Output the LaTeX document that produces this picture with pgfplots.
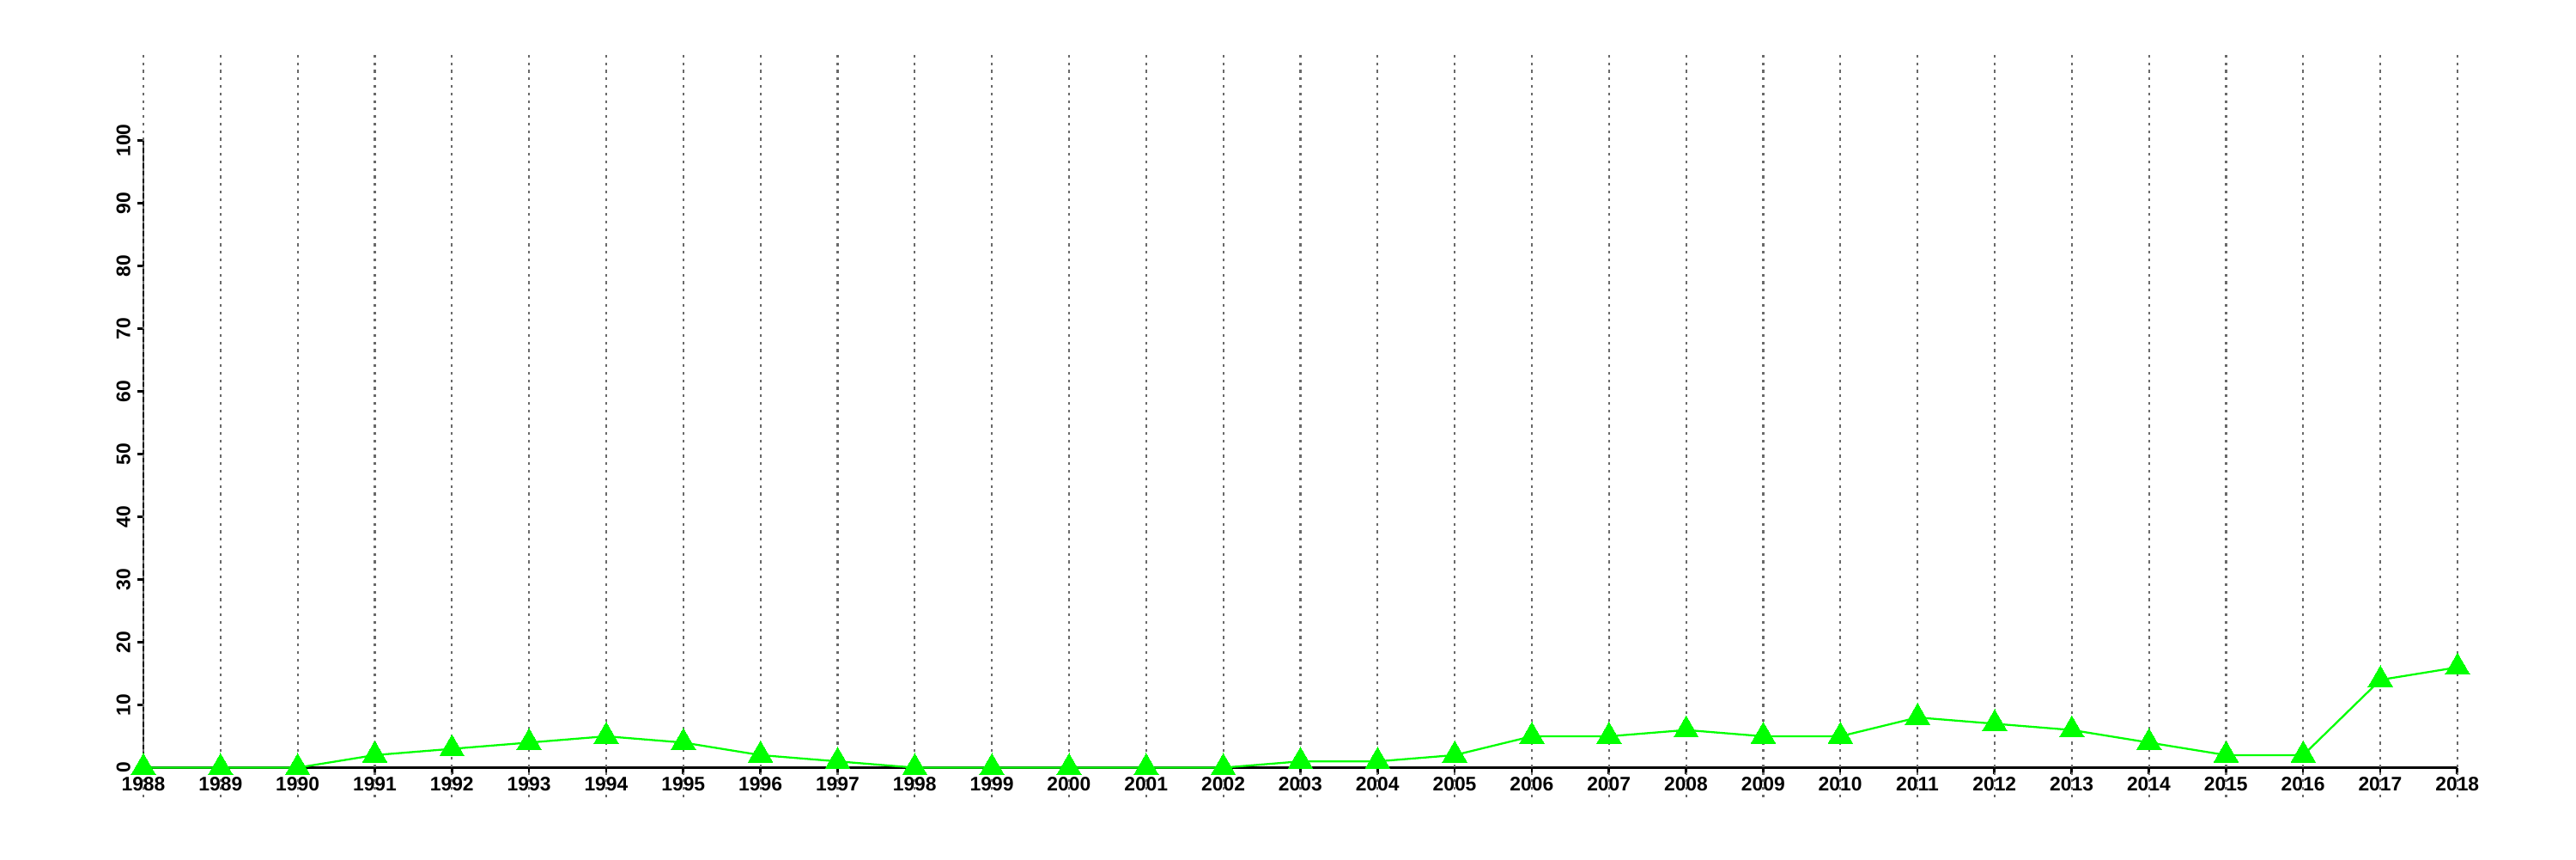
\documentclass[border=0pt]{standalone}
\usepackage{fontspec}
\setmainfont{Liberation Sans}
\usepackage{pgfplots}
\pgfplotsset{compat=1.18}
\definecolor{lgreen}{RGB}{0,255,0}
\definecolor{gridgray}{RGB}{105,105,105}
\begin{document}
\begin{tikzpicture}
\begin{axis}[
  scale only axis, width=26.95cm, height=7.3cm,
  xmin=1988, xmax=2018, ymin=0, ymax=100,
  clip=false,
  axis x line*=bottom, axis y line*=left,
  axis line style={line width=0.75pt, -, black},
  xtick={1988,...,2018}, ytick={0,10,...,100},
  tick align=outside, major tick length=0.075cm,
  tick style={black, line width=0.75pt},
  /pgf/number format/1000 sep={},
  /pgf/number format/assume math mode=true,
  tick label style={font=\fontsize{6.5}{7}\selectfont\bfseries},
  xticklabel style={anchor=north, inner sep=0.03cm},
  yticklabel style={rotate=90, anchor=south, inner sep=0.07cm},
]
\pgfplotsinvokeforeach{1988,...,2018}{
  \draw[gridgray, line width=0.6pt, dash pattern=on 0.9pt off 1.6pt] (axis cs:#1,-4.73) -- (axis cs:#1,114.27);
}
\addplot[lgreen, line width=0.65pt, mark=triangle*, mark size=4.7pt, mark options={fill=lgreen, draw=lgreen, line width=0pt}] coordinates {
(1988,0) (1989,0) (1990,0) (1991,2) (1992,3) (1993,4) (1994,5) (1995,4) (1996,2) (1997,1)
(1998,0) (1999,0) (2000,0) (2001,0) (2002,0) (2003,1) (2004,1) (2005,2) (2006,5) (2007,5)
(2008,6) (2009,5) (2010,5) (2011,8) (2012,7) (2013,6) (2014,4) (2015,2) (2016,2) (2017,14) (2018,16)
};
\path (axis cs:1986.141,-14.59) rectangle (axis cs:2019.536,122.40);
\end{axis}
\end{tikzpicture}
\end{document}
